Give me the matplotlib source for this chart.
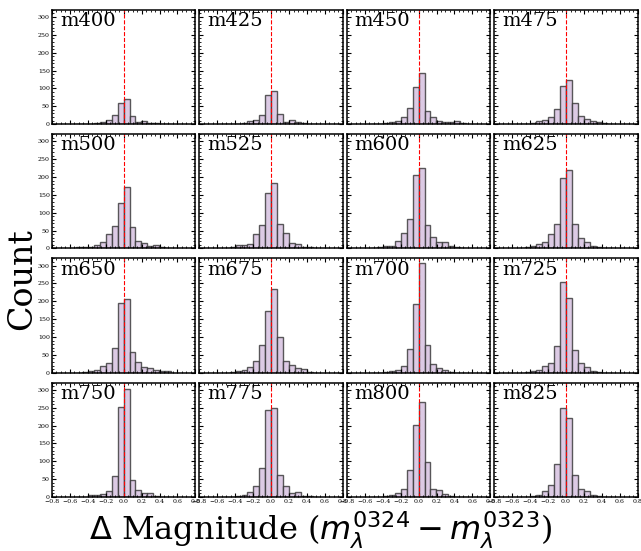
import numpy as np
import matplotlib
matplotlib.use("Agg")
import matplotlib.pyplot as plt
from matplotlib.ticker import MultipleLocator

# bin index k -> bin [k*w, (k+1)*w]
bin_k = list(range(-8, 8))
bin_width = 0.066

filters = ["m400", "m425", "m450", "m475",
           "m500", "m525", "m600", "m625",
           "m650", "m675", "m700", "m725",
           "m750", "m775", "m800", "m825"]

# counts for k = -8 ... 7
m400 = [0, 0, 0, 3, 6, 13, 25, 60, 71, 24, 7, 10, 3, 2, 0, 0]
m425 = [0, 0, 0, 3, 9, 12, 25, 82, 94, 29, 7, 12, 5, 2, 0, 0]
m450 = [0, 0, 3, 5, 8, 20, 44, 104, 142, 36, 21, 9, 7, 5, 8, 3]
m475 = [0, 0, 3, 9, 13, 20, 43, 106, 123, 59, 22, 14, 9, 5, 2, 0]
m500 = [3, 4, 5, 9, 17, 40, 62, 128, 173, 60, 22, 14, 8, 10, 3, 0]
m525 = [0, 4, 11, 10, 12, 40, 65, 156, 182, 68, 42, 15, 12, 5, 4, 2]
m600 = [0, 3, 8, 8, 22, 42, 82, 206, 224, 65, 33, 17, 18, 6, 3, 0]
m625 = [0, 3, 8, 12, 17, 40, 68, 196, 219, 68, 28, 18, 8, 4, 2, 0]
m650 = [0, 2, 5, 7, 20, 27, 70, 195, 207, 58, 30, 15, 12, 7, 4, 4]
m675 = [0, 3, 6, 8, 15, 33, 78, 172, 235, 99, 33, 22, 12, 10, 3, 0]
m700 = [0, 0, 3, 5, 8, 20, 67, 193, 308, 78, 25, 12, 8, 3, 0, 0]
m725 = [0, 2, 4, 8, 18, 28, 76, 253, 208, 64, 27, 17, 6, 3, 0, 0]
m750 = [0, 0, 5, 7, 8, 17, 60, 253, 303, 48, 20, 12, 10, 2, 0, 0]
m775 = [0, 0, 3, 5, 13, 32, 82, 243, 249, 63, 30, 10, 13, 3, 2, 0]
m800 = [0, 0, 3, 5, 10, 23, 75, 201, 267, 97, 22, 20, 8, 3, 0, 0]
m825 = [0, 0, 4, 5, 17, 35, 92, 250, 220, 62, 22, 17, 5, 3, 0, 0]

all_counts = [m400, m425, m450, m475, m500, m525, m600, m625,
              m650, m675, m700, m725, m750, m775, m800, m825]

x_ticks = [-0.8, -0.6, -0.4, -0.2, 0.0, 0.2, 0.4, 0.6, 0.8]
y_ticks = [0, 50, 100, 150, 200, 250, 300]

plt.rcParams['font.family'] = 'DejaVu Serif'
plt.rcParams['mathtext.fontset'] = 'dejavusans'

fig, axes = plt.subplots(4, 4, figsize=(6.41, 5.51), dpi=100,
                         sharex=True, sharey=True)
fig.subplots_adjust(left=0.081, right=0.995, top=0.982, bottom=0.098,
                    wspace=0.028, hspace=0.088)

edges = np.array(bin_k + [bin_k[-1] + 1]) * bin_width
for ax, name, counts in zip(axes.flat, filters, all_counts):
    ax.bar(edges[:-1], counts, width=bin_width, align='edge',
           facecolor='#dccae4', edgecolor=(0.2, 0.2, 0.2, 0.8),
           linewidth=1.0)
    ax.axvline(0.0, color='red', linestyle='--', linewidth=0.8)
    ax.text(0.055, 0.98, name, transform=ax.transAxes, ha='left', va='top',
            fontsize=14)
    ax.set_xlim(-0.8, 0.8)
    ax.set_ylim(0, 320)
    ax.set_xticks(x_ticks)
    ax.set_yticks(y_ticks)
    ax.xaxis.set_minor_locator(MultipleLocator(0.05))
    ax.yaxis.set_minor_locator(MultipleLocator(10))
    ax.tick_params(which='both', direction='in', top=True, right=True,
                   labelsize=4.5, pad=1.5)
    ax.tick_params(which='major', length=3, width=0.8)
    ax.tick_params(which='minor', length=1.6, width=0.6)
    for s in ax.spines.values():
        s.set_linewidth(1.1)

fig.text(0.035, 0.494, 'Count', rotation=90, ha='center', va='center',
         fontsize=24)
fig.text(0.5, 0.037,
         r'$\Delta$ Magnitude ($m_\lambda^{0324} - m_\lambda^{0323}$)',
         ha='center', va='center', fontsize=23)

fig.savefig('out.png', dpi=100)
